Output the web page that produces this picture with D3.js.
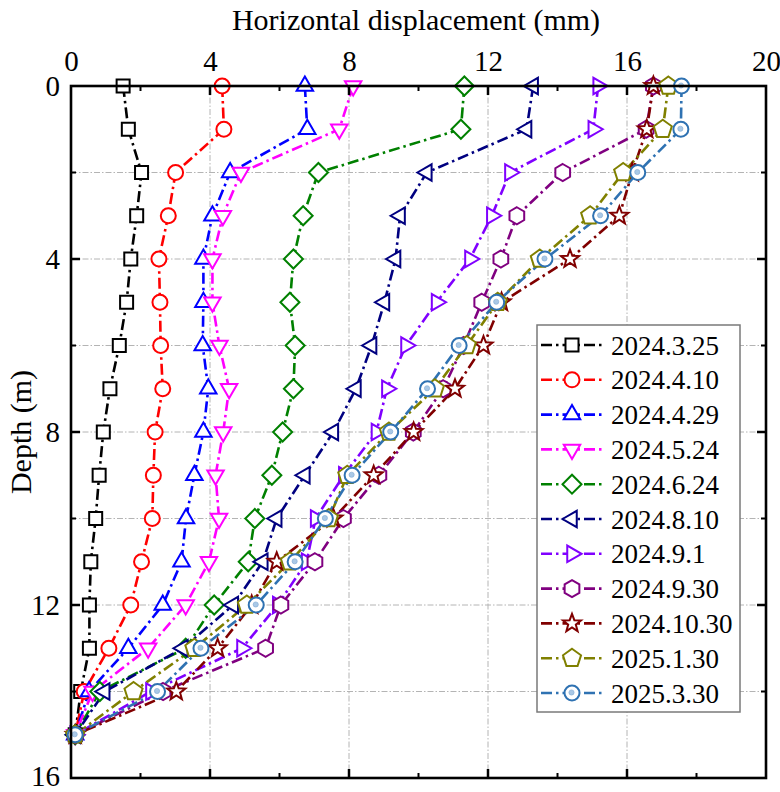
<!DOCTYPE html>
<html>
<head>
<meta charset="utf-8">
<script src="https://cdn.jsdelivr.net/npm/d3@7"></script>
<style>
  body { margin: 0; background: #fff; }
  text { font-family: "Liberation Serif", "Times New Roman", serif; fill: #000; }
</style>
</head>
<body>
<svg id="chart" width="780" height="792"></svg>
<script>
// depth of each measuring point (m)
const depths = [0, 1, 2, 3, 4, 5, 6, 7, 8, 9, 10, 11, 12, 13, 14, 15]

const dates = ['2024.3.25', '2024.4.10', '2024.4.29', '2024.5.24', '2024.6.24', '2024.8.10',
               '2024.9.1', '2024.9.30', '2024.10.30', '2025.1.30', '2025.3.30']

// horizontal displacement (mm), one array per survey, top to bottom
const d20240325 = [1.50, 1.65, 2.03, 1.89, 1.72, 1.60, 1.39, 1.12, 0.93, 0.81, 0.71, 0.57, 0.53, 0.53, 0.28, 0.12]
const d20240410 = [4.35, 4.40, 3.01, 2.80, 2.53, 2.56, 2.58, 2.64, 2.42, 2.37, 2.34, 2.03, 1.72, 1.09, 0.38, 0.12]
const d20240429 = [6.73, 6.80, 4.58, 4.07, 3.81, 3.81, 3.79, 3.95, 3.81, 3.55, 3.31, 3.18, 2.64, 1.65, 0.52, 0.12]
const d20240524 = [8.12, 7.72, 4.89, 4.37, 4.07, 4.07, 4.27, 4.55, 4.38, 4.16, 4.26, 3.97, 3.30, 2.22, 0.62, 0.12]
const d20240624 = [11.32, 11.22, 7.12, 6.68, 6.40, 6.30, 6.45, 6.40, 6.09, 5.78, 5.29, 5.10, 4.12, 3.30, 0.83, 0.12]
const d20240810 = [13.30, 13.11, 10.24, 9.47, 9.34, 9.02, 8.65, 8.20, 7.55, 6.73, 5.92, 5.52, 4.67, 3.22, 0.97, 0.12]
const d20240901 = [15.17, 15.03, 12.63, 12.11, 11.48, 10.52, 9.64, 9.09, 8.79, 7.85, 7.04, 6.78, 5.95, 4.92, 2.30, 0.12]
const d20240930 = [16.76, 16.55, 14.15, 12.83, 12.37, 11.82, 11.30, 10.71, 9.85, 8.86, 7.84, 7.02, 6.04, 5.60, 2.65, 0.12]
const d20241030 = [16.76, 16.57, 16.15, 15.78, 14.36, 12.39, 11.87, 11.05, 9.86, 8.71, 7.55, 5.92, 5.20, 4.22, 3.03, 0.12]
const d20250130 = [17.19, 17.03, 15.89, 14.94, 13.49, 12.28, 11.39, 10.47, 9.15, 7.95, 7.42, 6.30, 5.06, 3.55, 1.80, 0.12]
const d20250330 = [17.57, 17.55, 16.31, 15.24, 13.64, 12.25, 11.17, 10.26, 9.20, 8.09, 7.32, 6.45, 5.33, 3.74, 2.49, 0.12]

const seriesValues = [d20240325, d20240410, d20240429, d20240524, d20240624, d20240810,
                      d20240901, d20240930, d20241030, d20250130, d20250330]

const colors = ['#000000', '#ff0000', '#0000ff', '#ff00ff', '#008000', '#000080',
                '#8000ff', '#800080', '#800000', '#808000', '#2f72b2']
const markers = ['square', 'circle', 'triUp', 'triDown', 'diamond', 'triLeft',
                 'triRight', 'hexagon', 'star', 'pentagon', 'dotCircle']

const xTicks = [0, 4, 8, 12, 16, 20]
const yTicks = [0, 4, 8, 12, 16]

const margin = { left: 71, top: 86, right: 766, bottom: 778 }
const x = d3.scaleLinear().domain([0, 20]).range([margin.left, margin.right])
const y = d3.scaleLinear().domain([0, 16]).range([margin.top, margin.bottom])

const serif = '"Liberation Serif","Times New Roman",serif'
const svg = d3.select('#chart')

// regular polygon path centred on 0,0
function poly(n, r, rot) {
    const pts = d3.range(n).map(k => {
        const a = rot + k * 2 * Math.PI / n
        return [r * Math.cos(a), r * Math.sin(a)]
    })
    return 'M' + pts.map(p => p.join(',')).join('L') + 'Z'
}

function starPath(ro, ri) {
    const pts = d3.range(10).map(k => {
        const a = -Math.PI / 2 + k * Math.PI / 5
        const r = k % 2 ? ri : ro
        return [r * Math.cos(a), r * Math.sin(a)]
    })
    return 'M' + pts.map(p => p.join(',')).join('L') + 'Z'
}

const deg = Math.PI / 180
const markerPath = {
    square: poly(4, 9.2, 45 * deg),
    triUp: poly(3, 9.5, -90 * deg),
    triDown: poly(3, 9.5, 90 * deg),
    triLeft: poly(3, 9.5, 180 * deg),
    triRight: poly(3, 9.5, 0),
    diamond: poly(4, 9.5, 0),
    hexagon: poly(6, 8.5, -90 * deg),
    pentagon: poly(5, 9.5, -90 * deg),
    star: starPath(9.5, 4)
}

function drawMarker(g, kind, color) {
    if (kind === 'circle' || kind === 'dotCircle') {
        g.append('circle').attr('r', 7.5)
            .attr('fill', '#fff').attr('stroke', color).attr('stroke-width', 2)
        if (kind === 'dotCircle') {
            g.append('circle').attr('r', 2.6).attr('cx', -0.5).attr('cy', -0.5)
                .attr('fill', '#a9c8e6').attr('stroke', '#7fa9d3').attr('stroke-width', 0.6)
        }
    } else {
        g.append('path').attr('d', markerPath[kind])
            .attr('fill', '#fff').attr('stroke', color).attr('stroke-width', 2)
            .attr('stroke-linejoin', 'miter')
    }
}

const dashDot = '11,4,2.5,4'

// grid
const grid = svg.append('g').attr('stroke', '#b4b4b4').attr('stroke-width', 1).attr('stroke-dasharray', '6,2,1.5,2')
grid.selectAll('line.gx').data([4, 8, 12, 16]).enter().append('line')
    .attr('x1', d => x(d)).attr('x2', d => x(d)).attr('y1', margin.top).attr('y2', margin.bottom)
grid.selectAll('line.gy').data([2, 4, 6, 8, 10, 12, 14]).enter().append('line')
    .attr('y1', d => y(d)).attr('y2', d => y(d)).attr('x1', margin.left).attr('x2', margin.right)

// lines and markers
const line = d3.line().x(d => x(d[0])).y(d => y(d[1]))

seriesValues.forEach((vals, i) => {
    const pts = vals.map((v, j) => [v, depths[j]])
    svg.append('path')
        .attr('d', line(pts))
        .attr('fill', 'none')
        .attr('stroke', colors[i])
        .attr('stroke-width', 2.6)
        .attr('stroke-dasharray', dashDot)
})

seriesValues.forEach((vals, i) => {
    vals.forEach((v, j) => {
        const g = svg.append('g').attr('transform', `translate(${x(v)},${y(depths[j])})`)
        drawMarker(g, markers[i], colors[i])
    })
})

// axes, ticks inward
const fontSize = 29
const topAxis = svg.append('g').attr('transform', `translate(0,${margin.top})`)
    .call(d3.axisTop(x).tickValues(xTicks).tickSize(0).tickPadding(15))
topAxis.attr('font-family', serif)
topAxis.select('.domain').remove()
topAxis.selectAll('text').attr('font-size', fontSize).attr('font-family', serif)

const leftAxis = svg.append('g').attr('transform', `translate(${margin.left},0)`)
    .call(d3.axisLeft(y).tickValues(yTicks).tickSize(0).tickPadding(11))
leftAxis.attr('font-family', serif)
leftAxis.select('.domain').remove()
leftAxis.selectAll('text').attr('font-size', fontSize).attr('font-family', serif)
// keep the bottom label inside the picture
leftAxis.selectAll('text').filter(d => d === 16).attr('dy', '0.25em')

const tickG = svg.append('g').attr('stroke', '#000')
const xMajor = [4, 8, 12, 16], xMinor = [2, 6, 10, 14, 18]
const yMajor = [4, 8, 12], yMinor = [2, 6, 10, 14]
xMajor.forEach(v => {
    tickG.append('line').attr('x1', x(v)).attr('x2', x(v)).attr('y1', margin.top).attr('y2', margin.top + 9).attr('stroke-width', 2.5)
    tickG.append('line').attr('x1', x(v)).attr('x2', x(v)).attr('y1', margin.bottom).attr('y2', margin.bottom - 9).attr('stroke-width', 2.5)
})
xMinor.forEach(v => {
    tickG.append('line').attr('x1', x(v)).attr('x2', x(v)).attr('y1', margin.top).attr('y2', margin.top + 5).attr('stroke-width', 2)
    tickG.append('line').attr('x1', x(v)).attr('x2', x(v)).attr('y1', margin.bottom).attr('y2', margin.bottom - 5).attr('stroke-width', 2)
})
yMajor.forEach(v => {
    tickG.append('line').attr('y1', y(v)).attr('y2', y(v)).attr('x1', margin.left).attr('x2', margin.left + 9).attr('stroke-width', 2.5)
    tickG.append('line').attr('y1', y(v)).attr('y2', y(v)).attr('x1', margin.right).attr('x2', margin.right - 9).attr('stroke-width', 2.5)
})
yMinor.forEach(v => {
    tickG.append('line').attr('y1', y(v)).attr('y2', y(v)).attr('x1', margin.left).attr('x2', margin.left + 5).attr('stroke-width', 2)
    tickG.append('line').attr('y1', y(v)).attr('y2', y(v)).attr('x1', margin.right).attr('x2', margin.right - 5).attr('stroke-width', 2)
})

// frame
svg.append('rect')
    .attr('x', margin.left).attr('y', margin.top)
    .attr('width', margin.right - margin.left).attr('height', margin.bottom - margin.top)
    .attr('fill', 'none').attr('stroke', '#000').attr('stroke-width', 2.6)

// axis titles
svg.append('text')
    .attr('x', 416).attr('y', 30)
    .attr('text-anchor', 'middle').attr('font-size', 30)
    .attr('font-family', serif)
    .text('Horizontal displacement (mm)')

svg.append('text')
    .attr('transform', `translate(31,${(margin.top + margin.bottom) / 2}) rotate(-90)`)
    .attr('text-anchor', 'middle').attr('font-size', 30)
    .attr('font-family', serif)
    .text('Depth (m)')

// legend
const legend = svg.append('g').attr('transform', 'translate(537,325)')
legend.append('rect')
    .attr('width', 203).attr('height', 387)
    .attr('fill', '#fff').attr('stroke', '#7a7a7a').attr('stroke-width', 1.5)

dates.forEach((d, i) => {
    const row = legend.append('g').attr('transform', `translate(0,${20 + i * 34.8})`)
    row.append('line')
        .attr('x1', 4).attr('x2', 67).attr('y1', 0).attr('y2', 0)
        .attr('stroke', colors[i]).attr('stroke-width', 2.6)
        .attr('stroke-dasharray', dashDot)
    const m = row.append('g').attr('transform', 'translate(35,0)')
    drawMarker(m, markers[i], colors[i])
    row.append('text')
        .attr('x', 74).attr('y', 9.5)
        .attr('font-size', 27)
        .attr('font-family', serif)
        .text(d)
})
</script>
</body>
</html>
